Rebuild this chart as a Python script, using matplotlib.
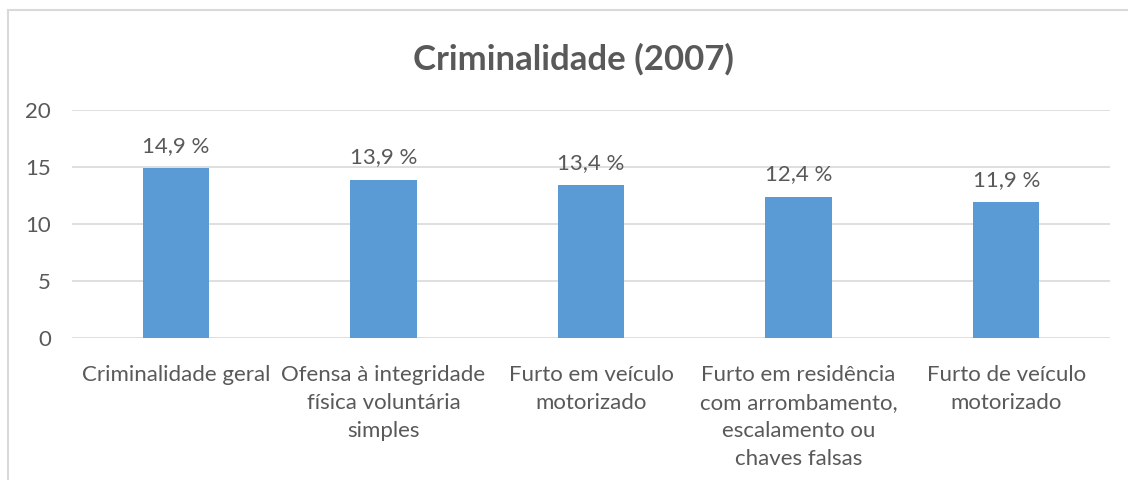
import matplotlib
matplotlib.use("Agg")
import matplotlib.pyplot as plt
from matplotlib.patches import Rectangle

categories = [
    "Criminalidade geral",
    "Ofensa à integridade\nfísica voluntária\nsimples",
    "Furto em veículo\nmotorizado",
    "Furto em residência\ncom arrombamento,\nescalamento ou\nchaves falsas",
    "Furto de veículo\nmotorizado",
]
values = [14.9, 13.9, 13.4, 12.4, 11.9]
yticks = [0, 5, 10, 15, 20]
title = "Criminalidade (2007)"

plt.rcParams['font.family'] = ['Lato', 'DejaVu Sans']
text_color = "#595959"
bar_color = "#5B9BD5"
grid_color = "#D9D9D9"

fig = plt.figure(figsize=(11.28, 4.8), dpi=100)
fig.patch.set_facecolor("white")
# outer chart frame
fig.patches.append(Rectangle((8/1128, -0.1), 1.2, 1 - 10/480 + 0.1,
                             transform=fig.transFigure, fill=False,
                             edgecolor="#D9D9D9", linewidth=1.5))

ax = fig.add_axes([72/1128, 1 - 338/480, (1110 - 72)/1128, (338 - 110)/480])
x = list(range(len(categories)))
bars = ax.bar(x, values, width=0.32, color=bar_color, zorder=3)
ax.set_xlim(-0.5, len(categories) - 0.5)
ax.set_ylim(0, 20)
ax.set_yticks(yticks)
ax.set_yticklabels([str(t) for t in yticks])
ax.set_xticks(x)
ax.set_xticklabels(categories, linespacing=1.5)
for sp in ax.spines.values():
    sp.set_visible(False)
ax.grid(axis="y", color=grid_color, linewidth=1.2, zorder=0)
ax.tick_params(axis="both", length=0, colors=text_color, labelsize=16)
ax.tick_params(axis="x", pad=19.5)
ax.tick_params(axis="y", pad=15)
for lab in ax.get_xticklabels():
    lab.set_verticalalignment("top")

for xi, v in zip(x, values):
    ax.annotate(f"{v:.1f}".replace(".", ",") + " %", (xi, v),
                xytext=(0, 9), textcoords="offset points",
                ha="center", va="bottom", fontsize=16, color=text_color)

fig.text(573/1128, 1 - 59/480, title, ha="center", va="center",
         fontsize=25, fontweight="bold", color=text_color)

fig.savefig("out.png", dpi=100, facecolor="white")
